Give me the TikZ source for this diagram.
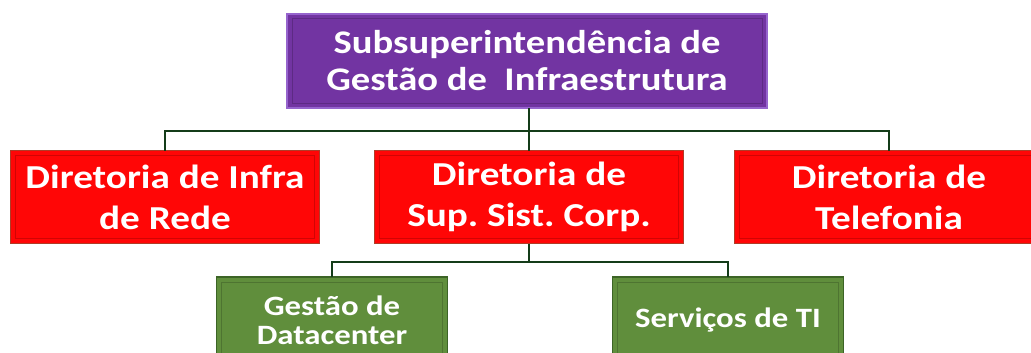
\documentclass[tikz,border=0pt]{standalone}
\usepackage{fontspec}
\setmainfont{Carlito}[FakeStretch=1.17]
\usetikzlibrary{positioning}
\frenchspacing
\definecolor{topfill}{RGB}{114,52,162}
\definecolor{topedge}{RGB}{150,100,205}
\definecolor{dirfill}{RGB}{255,6,6}
\definecolor{diredge}{RGB}{175,60,40}
\definecolor{gerfill}{RGB}{96,142,60}
\definecolor{geredge}{RGB}{60,100,38}
\definecolor{linkcol}{RGB}{20,60,25}

\begin{document}
\begin{tikzpicture}[x=1pt,y=-1pt]

\tikzstyle{bevel}=[rectangle, outer sep=0pt, inner sep=2pt, align=center, text=white,
  line width=1.5pt, path picture={\draw[black, opacity=0.18, line width=1pt]
  ([shift={(5pt,-5pt)}]path picture bounding box.north west) rectangle
  ([shift={(-5pt,5pt)}]path picture bounding box.south east);}]
\tikzstyle{topbox}=[bevel, fill=topfill, draw=topedge, minimum width=480pt, minimum height=94pt,
  font=\fontsize{33}{37}\selectfont\bfseries]
\tikzstyle{dirbox}=[bevel, fill=dirfill, draw=diredge, minimum width=309pt, minimum height=93pt,
  font=\fontsize{33.5}{41}\selectfont\bfseries]
\tikzstyle{gerbox}=[bevel, fill=gerfill, draw=geredge, minimum width=231pt, minimum height=86pt,
  font=\fontsize{28}{29}\selectfont\bfseries]
\tikzstyle{link}=[draw=linkcol, line width=1.8pt]

\useasboundingbox (0,0) rectangle (1031,353);

\node[topbox] at (527, 61)   (sub) {Subsuperintendência de\\Gestão de\ \ Infraestrutura};

\node[dirbox] at (165, 197)  (dinfra) {Diretoria de Infra\\de Rede};
\node[dirbox] at (529, 197)  (dsist) {Diretoria de\\Sup. Sist. Corp.};
\node[dirbox] at (889, 197)  (dtel) {Diretoria de\\Telefonia};

\node[gerbox] at (332, 320)  (gdata) {Gestão de\\Datacenter};
\node[gerbox] at (728, 320)  (gserv) {Serviços de TI};

\coordinate (bus1) at (529, 131);
\coordinate (bus2) at (529, 262);

\draw[link] (sub.south -| bus1) -- (dsist.north);
\draw[link] (dinfra.north) |- (bus1) -| (dtel.north);

\draw[link] (dsist.south) -- (bus2);
\draw[link] (gdata.north) |- (bus2) -| (gserv.north);

\end{tikzpicture}
\end{document}
